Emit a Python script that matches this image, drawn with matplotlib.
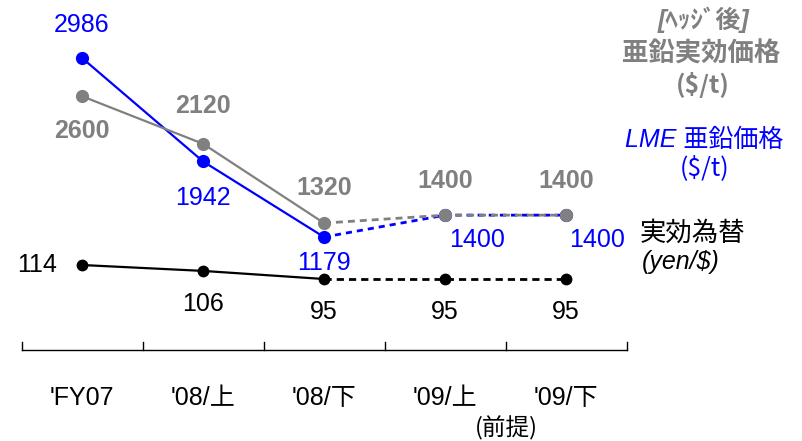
import matplotlib
matplotlib.use("Agg")
import matplotlib.pyplot as plt
import matplotlib.transforms as mtransforms

categories = ["'FY07", "'08/上", "'08/下", "'09/上", "'09/下"]
lme_zinc = [2986, 1942, 1179, 1400, 1400]
hedged_zinc = [2600, 2120, 1320, 1400, 1400]
fx_rate = [114, 106, 95, 95, 95]

FAM = ['Liberation Sans', 'Noto Sans CJK JP', 'DejaVu Sans']
JFAM = ['Noto Sans CJK JP', 'DejaVu Sans']
BLUE = '#0000FF'
GRAY = '#808080'
BLACK = '#000000'
FS = 18

fig = plt.figure(figsize=(8.02, 4.41), dpi=100)
ax = fig.add_axes([0, 0, 1, 1])
ax2 = ax.twinx()
for a in (ax, ax2):
    a.set_axis_off()
ax.set_xlim(-0.678, 5.95)
ax2.set_xlim(-0.678, 5.95)
ax.set_ylim(-879, 3571)
ax2.set_ylim(-124.8, 473.6)

x = list(range(len(categories)))

def draw(a, vals, color, lw, ms, z, dash):
    a.plot(x[:3], vals[:3], color=color, lw=lw, zorder=z)
    a.plot(x[2:], vals[2:], color=color, lw=2.0, ls=dash, zorder=z)
    a.plot(x, vals, 'o', color=color, ms=ms, zorder=z + 0.5, markeredgewidth=0)

draw(ax, lme_zinc, BLUE, 1.6, 9.5, 3, (0, (2.2, 1.8)))
draw(ax, hedged_zinc, GRAY, 1.6, 9.5, 4, (0, (2.5, 1.8)))
draw(ax2, fx_rate, BLACK, 1.6, 8.5, 3, (0, (2.6, 1.8)))

def lab(a, i, v, dx, dy, color, bold=False):
    a.annotate(str(v), (x[i], v), xytext=(dx, dy), textcoords='offset pixels',
               ha='center', va='center', fontsize=FS, color=color,
               fontweight='bold' if bold else 'normal', family=FAM, zorder=6)

blue_off = [(0, 33), (0, -37), (0, -26), (32, -25), (31, -25)]
gray_off = [(0, -35), (0, 38), (0, 35), (0, 34), (0, 34)]
fx_off = [(-45, 0), (0, -33), (0, -33), (0, -33), (0, -33)]
for i in x:
    lab(ax, i, lme_zinc[i], *blue_off[i], BLUE)
    lab(ax, i, hedged_zinc[i], *gray_off[i], GRAY, bold=True)
    lab(ax2, i, fx_rate[i], *fx_off[i], BLACK)

# category axis
tr = mtransforms.blended_transform_factory(ax.transData, ax.transAxes)
y0 = 1 - 350 / 441
y1 = 1 - 342 / 441
ax.plot([-0.5, len(categories) - 0.5], [y0, y0], color=BLACK, lw=1.0, transform=tr, clip_on=False)
for k in range(len(categories) + 1):
    ax.plot([k - 0.5, k - 0.5], [y0, y1], color=BLACK, lw=1.0, transform=tr, clip_on=False)
for i, c in enumerate(categories):
    ax.text(i, 1 - 398 / 441, c, transform=tr, ha='center', va='center',
            fontsize=FS, family=FAM, color=BLACK)
ax.text(3.51, 1 - 428 / 441, '(前提)', transform=tr, ha='center', va='center',
        fontsize=17, family=JFAM, color=BLACK)

# series labels on the right
def ftxt(px, py, s, color, fs, weight='normal', style='normal', fam=FAM):
    fig.text(px / 802, 1 - py / 441, s, ha='center', va='center', color=color,
             fontsize=fs, fontweight=weight, fontstyle=style, family=fam)

ftxt(704, 20, '[ﾍｯｼﾞ後]', GRAY, 18, 'bold', 'italic')
ftxt(701, 54, '亜鉛実効価格', GRAY, 19, 'bold', 'italic')
ftxt(703, 85, '($/t)', GRAY, 18, 'bold', 'normal', JFAM)
ftxt(704, 140, 'LME 亜鉛価格', BLUE, 18, 'normal', 'italic')
ftxt(705, 168, '($/t)', BLUE, 18, 'normal', 'normal', JFAM)
ftxt(692, 233, '実効為替', BLACK, 19, 'normal', 'italic')
ftxt(681, 262, '(yen/$)', BLACK, 18, 'normal', 'italic')

fig.savefig('out.png', dpi=100)
